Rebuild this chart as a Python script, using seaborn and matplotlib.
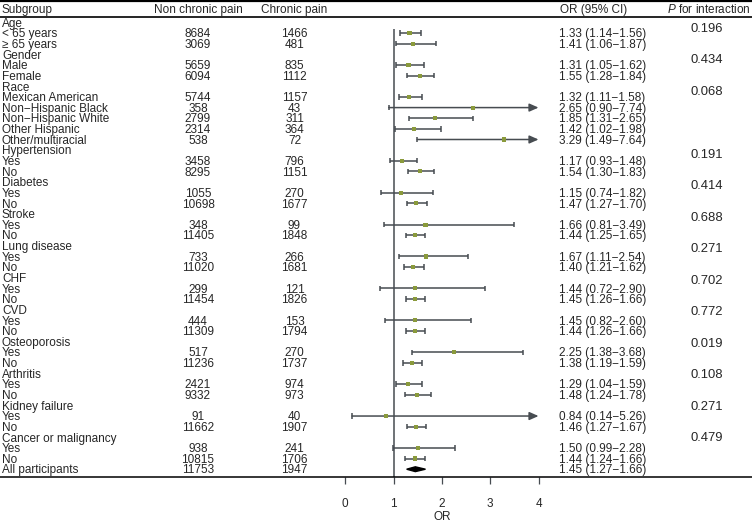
import matplotlib
matplotlib.use("Agg")
import numpy as np
import pandas as pd
import matplotlib.pyplot as plt
import matplotlib.transforms as mtransforms
from matplotlib.patches import Polygon
import seaborn as sns

sns.set_theme(style="white")
plt.rcParams['font.family'] = ['Liberation Sans', 'DejaVu Sans']
plt.rcParams['mathtext.fontset'] = 'custom'
plt.rcParams['mathtext.rm'] = 'Liberation Sans'
plt.rcParams['mathtext.it'] = 'Liberation Sans:italic'

# ---- dados ----
subgroup = ["Age", "< 65 years", "≥ 65 years",
            "Gender", "Male", "Female",
            "Race", "Mexican American", "Non−Hispanic Black", "Non−Hispanic White",
            "Other Hispanic", "Other/multiracial",
            "Hypertension", "Yes", "No",
            "Diabetes", "Yes", "No",
            "Stroke", "Yes", "No",
            "Lung disease", "Yes", "No",
            "CHF", "Yes", "No",
            "CVD", "Yes", "No",
            "Osteoporosis", "Yes", "No",
            "Arthritis", "Yes", "No",
            "Kidney failure", "Yes", "No",
            "Cancer or malignancy", "Yes", "No",
            "All participants"]
n_non = [None, 8684, 3069, None, 5659, 6094, None, 5744, 358, 2799, 2314, 538,
         None, 3458, 8295, None, 1055, 10698, None, 348, 11405, None, 733, 11020,
         None, 299, 11454, None, 444, 11309, None, 517, 11236, None, 2421, 9332,
         None, 91, 11662, None, 938, 10815, 11753]
n_cp = [None, 1466, 481, None, 835, 1112, None, 1157, 43, 311, 364, 72,
        None, 796, 1151, None, 270, 1677, None, 99, 1848, None, 266, 1681,
        None, 121, 1826, None, 153, 1794, None, 270, 1737, None, 974, 973,
        None, 40, 1907, None, 241, 1706, 1947]
odds = [None, 1.33, 1.41, None, 1.31, 1.55, None, 1.32, 2.65, 1.85, 1.42, 3.29,
        None, 1.17, 1.54, None, 1.15, 1.47, None, 1.66, 1.44, None, 1.67, 1.40,
        None, 1.44, 1.45, None, 1.45, 1.44, None, 2.25, 1.38, None, 1.29, 1.48,
        None, 0.84, 1.46, None, 1.50, 1.44, 1.45]
ci_low = [None, 1.14, 1.06, None, 1.05, 1.28, None, 1.11, 0.90, 1.31, 1.02, 1.49,
          None, 0.93, 1.30, None, 0.74, 1.27, None, 0.81, 1.25, None, 1.11, 1.21,
          None, 0.72, 1.26, None, 0.82, 1.26, None, 1.38, 1.19, None, 1.04, 1.24,
          None, 0.14, 1.27, None, 0.99, 1.24, 1.27]
ci_high = [None, 1.56, 1.87, None, 1.62, 1.84, None, 1.58, 7.74, 2.65, 1.98, 7.64,
           None, 1.48, 1.83, None, 1.82, 1.70, None, 3.49, 1.65, None, 2.54, 1.62,
           None, 2.90, 1.66, None, 2.60, 1.66, None, 3.68, 1.59, None, 1.59, 1.78,
           None, 5.26, 1.67, None, 2.28, 1.66, 1.66]
p_inter = ["0.196", None, None, "0.434", None, None, "0.068", None, None, None, None, None,
           "0.191", None, None, "0.414", None, None, "0.688", None, None, "0.271", None, None,
           "0.702", None, None, "0.772", None, None, "0.019", None, None, "0.108", None, None,
           "0.271", None, None, "0.479", None, None, None]
x_ticks = [0, 1, 2, 3, 4]
x_max = 4

# ---- layout (pixels) ----
W, H = 752, 522
AX_BOTTOM = 477
X0, SCALE = 345.3, 48.3          # pixel do OR=0, pixels por unidade de OR
ROW0, ROWH = 22.5, 10.636
FS = 8.5
EM = FS * 100 / 72
CI_COL = "#474c51"
PT_COL = "#8a9a3b"

df = pd.DataFrame({"subgroup": subgroup, "n_non": n_non, "n_cp": n_cp,
                   "odds": odds, "lo": ci_low, "hi": ci_high, "p": p_inter})
df["y"] = ROW0 + ROWH * np.arange(len(df))

fig = plt.figure(figsize=(W / 100, H / 100), dpi=100)
ax = fig.add_axes([0, 1 - AX_BOTTOM / H, 1, AX_BOTTOM / H])
ax.set_xlim(-X0 / SCALE, (W - X0) / SCALE)
ax.set_ylim(AX_BOTTOM, 0)

tr = mtransforms.blended_transform_factory(ax.transAxes, ax.transData)
base = 0.358 * EM   # centro das maiúsculas -> baseline

# cabeçalho
hy = 9 + base
ax.text(2 / W, hy, "Subgroup", transform=tr, fontsize=FS, ha="left", va="baseline")
ax.text(198 / W, hy, "Non chronic pain", transform=tr, fontsize=FS, ha="center", va="baseline")
ax.text(294.5 / W, hy, "Chronic pain", transform=tr, fontsize=FS, ha="center", va="baseline")
ax.text(560 / W, hy, "OR (95% CI)", transform=tr, fontsize=FS, ha="left", va="baseline")
ax.text(751 / W, hy, r"$\it{P}$ for interaction", transform=tr, fontsize=FS, ha="right", va="baseline")
ax.axhline(1.2, color="black", lw=1.6)
ax.axhline(16.5, color="black", lw=1.2)

# colunas de texto
for i, r in df.iterrows():
    yb = r.y + base
    ax.text(2 / W, yb, r.subgroup, transform=tr, fontsize=FS, ha="left", va="baseline")
    if pd.notna(r.n_non):
        ax.text(198 / W, yb, f"{int(r.n_non)}", transform=tr, fontsize=FS, ha="center", va="baseline")
        ax.text(294.5 / W, yb, f"{int(r.n_cp)}", transform=tr, fontsize=FS, ha="center", va="baseline")
        ax.text(559 / W, yb, f"{r.odds:.2f} ({r.lo:.2f}−{r.hi:.2f})", transform=tr,
                fontsize=FS, ha="left", va="baseline")
    if r.p is not None:
        py = 27 + 10.5 * i
        ax.text(707 / W, py + 0.358 * 9.4 * 100 / 72, r.p, transform=tr, fontsize=9.4,
                ha="center", va="baseline")

# linha de referência
ax.vlines(1, 28.5, AX_BOTTOM, color=CI_COL, lw=1.1, zorder=1)

# IC
est = df[df.odds.notna()].iloc[:-1]
cap = 2.7
for _, r in est.iterrows():
    if r.hi > x_max:
        ax.annotate("", xy=(x_max, r.y), xytext=(r.lo, r.y),
                    arrowprops=dict(arrowstyle="-|>,head_length=0.45,head_width=0.2",
                                    color=CI_COL, lw=1.1, shrinkA=0, shrinkB=0))
        ax.vlines(r.lo, r.y - cap, r.y + cap, color=CI_COL, lw=1.1)
    else:
        ax.hlines(r.y, r.lo, r.hi, color=CI_COL, lw=1.1)
        ax.vlines([r.lo, r.hi], r.y - cap, r.y + cap, color=CI_COL, lw=1.1)

sns.scatterplot(data=est, x="odds", y="y", marker="s", s=9, color=PT_COL,
                edgecolor="none", ax=ax, zorder=3, legend=False)

# diamante geral
tot = df.iloc[-1]
ax.add_patch(Polygon([(tot.lo, tot.y), (tot.odds, tot.y - 2.4), (tot.hi, tot.y),
                      (tot.odds, tot.y + 2.4)], closed=True, color="black", zorder=3))

ax.set_ylim(AX_BOTTOM, 0)
ax.set_xlim(-X0 / SCALE, (W - X0) / SCALE)
for s in ["top", "left", "right"]:
    ax.spines[s].set_visible(False)
ax.spines["bottom"].set_color("black")
ax.spines["bottom"].set_linewidth(1.1)
ax.set_yticks([])
ax.set_ylabel("")
ax.set_xticks(x_ticks)
ax.tick_params(axis="x", direction="out", length=5, width=0.9, color=CI_COL,
               pad=10, labelsize=FS, bottom=True)
ax.set_xlabel("")
# rótulo do eixo centrado no painel do forest (0–4)
ax.text((x_ticks[0] + x_ticks[-1]) / 2, 516.5, "OR", fontsize=FS, ha="center",
        va="center", clip_on=False)

fig.savefig("out.png", dpi=100)
